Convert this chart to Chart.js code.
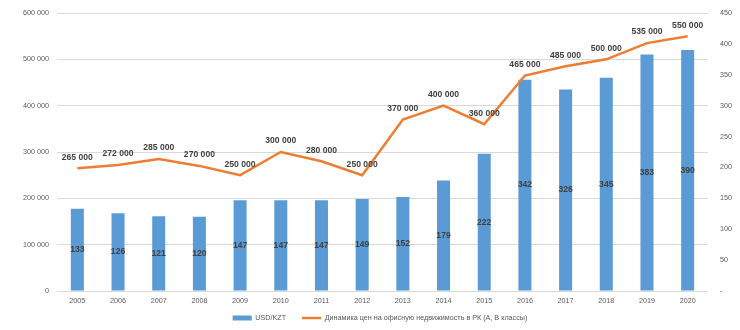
<!DOCTYPE html>
<html><head><meta charset="utf-8">
<script src="https://cdn.jsdelivr.net/npm/chart.js@4.4.0/dist/chart.umd.min.js"></script>
<style>html,body{margin:0;padding:0;background:#fff;}</style>
</head><body>
<canvas id="c" width="740" height="330"></canvas>
<script>
const years = ['2005','2006','2007','2008','2009','2010','2011','2012','2013','2014','2015','2016','2017','2018','2019','2020'];
const usdKzt = [133,126,121,120,147,147,147,149,152,179,222,342,326,345,383,390];
const officePrices = [265000,272000,285000,270000,250000,300000,280000,250000,370000,400000,360000,465000,485000,500000,535000,550000];
const leftTicks = [0,100000,200000,300000,400000,500000,600000];
const rightTicks = [0,50,100,150,200,250,300,350,400,450];
const barLabel = 'USD/KZT';
const lineLabel = 'Динамика цен на офисную недвижимость в РК (А, В классы)';

const fmt = v => String(v).replace(/\B(?=(\d{3})+(?!\d))/g, ' ');
const FONT = "'Liberation Sans', Arial, sans-serif";

const labelPlugin = {
  id: 'valueLabels',
  afterLayout(chart) {
    const lg = chart.legend;
    if (lg) { lg.top -= 8.6; lg.bottom -= 8.6; lg.left += 10; lg.right += 10; }
  },
  afterDatasetsDraw(chart) {
    const ctx = chart.ctx;
    ctx.save();
    ctx.font = "bold 8.6px " + FONT;
    ctx.fillStyle = '#404040';
    ctx.textAlign = 'center';
    ctx.textBaseline = 'middle';
    chart.data.datasets.forEach((ds, di) => {
      const meta = chart.getDatasetMeta(di);
      meta.data.forEach((el, i) => {
        const v = ds.data[i];
        if (meta.type === 'bar') {
          ctx.fillText(fmt(v), el.x, (el.y + el.base) / 2);
        } else {
          ctx.fillText(fmt(v), el.x, el.y - 11);
        }
      });
    });
    ctx.restore();
  }
};

new Chart(document.getElementById('c'), {
  data: {
    labels: years,
    datasets: [
      {
        type: 'bar', label: barLabel, data: usdKzt, yAxisID: 'yR',
        backgroundColor: '#5B9BD5', borderWidth: 0,
        barPercentage: 0.32, categoryPercentage: 1.0, order: 1, pointStyle: 'rect'
      },
      {
        type: 'line', label: lineLabel, data: officePrices, yAxisID: 'yL',
        borderColor: '#ED7D31', backgroundColor: '#ED7D31', borderWidth: 2.5,
        pointRadius: 0, tension: 0, order: 0, pointStyle: 'line'
      }
    ]
  },
  options: {
    responsive: false,
    animation: false,
    layout: { padding: { top: 13, bottom: -10.2, left: 0, right: 0 } },
    plugins: {
      tooltip: { enabled: false },
      legend: {
        position: 'bottom',
        labels: {
          font: { family: FONT, size: 7.2 }, color: '#595959',
          usePointStyle: true, pointStyleWidth: 19, boxHeight: 5, padding: 16,
          sort: (a, b) => a.datasetIndex - b.datasetIndex
        }
      }
    },
    scales: {
      x: {
        grid: { display: false, drawTicks: false }, border: { display: false },
        ticks: { font: { family: FONT, size: 7.2 }, color: '#595959', padding: 6 },
        afterFit: s => { s.height = 16; }
      },
      yL: {
        position: 'left', min: 0, max: 600000,
        afterBuildTicks: s => { s.ticks = leftTicks.map(v => ({ value: v })); },
        ticks: { font: { family: FONT, size: 7.2 }, color: '#595959', padding: 8, callback: v => fmt(v) },
        grid: { color: '#D9D9D9', drawTicks: false }, border: { display: false },
        afterFit: s => { s.width = 57; s.paddingTop = 4; s.paddingBottom = 4; }
      },
      yR: {
        position: 'right', min: 0, max: 450,
        afterBuildTicks: s => { s.ticks = rightTicks.map(v => ({ value: v })); },
        ticks: { font: { family: FONT, size: 7.2 }, color: '#595959', padding: 12, callback: v => v === 0 ? '-' : String(v) },
        grid: { drawOnChartArea: false, drawTicks: false }, border: { display: false },
        afterFit: s => { s.width = 32; s.paddingTop = 4; s.paddingBottom = 4; }
      }
    }
  },
  plugins: [labelPlugin]
});
</script>
</body></html>
